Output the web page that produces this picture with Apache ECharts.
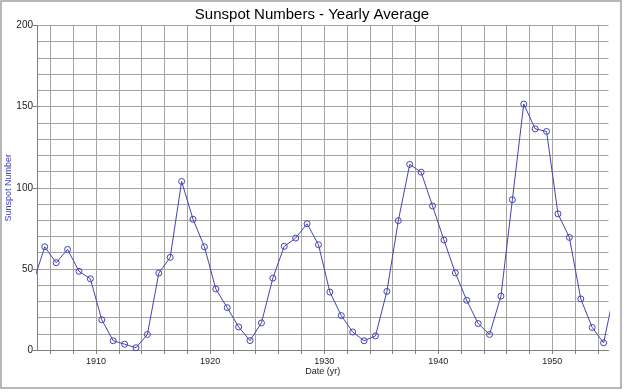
<!DOCTYPE html>
<html><head><meta charset="utf-8">
<script src="https://cdn.jsdelivr.net/npm/echarts@6/dist/echarts.min.js"></script>
<style>html,body{margin:0;padding:0;background:#fff}#c{width:624px;height:392px}</style>
</head><body><div id="c"></div>
<script>
// Yearly average sunspot numbers (plotted at mid-year)
const years = [1904,1905,1906,1907,1908,1909,1910,1911,1912,1913,1914,1915,1916,1917,1918,1919,1920,1921,1922,1923,1924,1925,1926,1927,1928,1929,1930,1931,1932,1933,1934,1935,1936,1937,1938,1939,1940,1941,1942,1943,1944,1945,1946,1947,1948,1949,1950,1951,1952,1953,1954,1955];
const sunspots = [42.0,63.6,53.8,62.0,48.5,43.9,18.6,5.7,3.6,1.4,9.6,47.4,57.1,103.9,80.6,63.6,37.6,26.1,14.2,5.8,16.7,44.3,63.9,69.0,77.8,64.9,35.7,21.2,11.1,5.7,8.7,36.1,79.7,114.4,109.6,88.8,67.8,47.5,30.6,16.3,9.6,33.2,92.6,151.6,136.3,134.7,83.9,69.4,31.5,13.9,4.4,38.0];
const xLabelValues = [1910,1920,1930,1940,1950];
const xTickValues = [1906,1908,1910,1912,1914,1916,1918,1920,1922,1924,1926,1928,1930,1932,1934,1936,1938,1940,1942,1944,1946,1948,1950,1952,1954];
const yLabels = [0,50,100,150,200];

const chart = echarts.init(document.getElementById('c'));
const font = 'Liberation Sans, Arial, sans-serif';
chart.setOption({
  animation:false,
  backgroundColor:'#fff',
  title:{text:'Sunspot Numbers - Yearly Average',left:'center',top:2,
    textStyle:{fontFamily:font,fontSize:15,fontWeight:'normal',color:'#000'}},
  grid:{left:37,right:15.5,top:25.5,bottom:42,containLabel:false,outerBoundsMode:'none'},
  graphic:[{type:'rect',shape:{x:1,y:1,width:620,height:387},style:{fill:'none',stroke:'#a0a0a0',lineWidth:1.5},silent:true}],
  xAxis:{type:'value',min:1904.82,max:1954.93,
    name:'Date (yr)',nameLocation:'middle',nameGap:17,nameMoveOverlap:false,
    nameTextStyle:{fontFamily:font,fontSize:9,color:'#222'},
    axisLine:{show:true,lineStyle:{color:'#808080',width:1}},
    axisTick:{show:true,length:4,customValues:xTickValues,lineStyle:{color:'#808080'}},
    axisLabel:{customValues:xLabelValues,margin:7,fontFamily:font,fontSize:9,color:'#222',
      formatter:v=>String(v)},
    splitLine:{show:true,lineStyle:{color:'#a4a4a4',width:1}},
    minorTick:{show:false},
    minorSplitLine:{show:false}
  },
  yAxis:{type:'value',min:0,max:200,interval:50,
    name:'Sunspot Number',nameLocation:'middle',nameGap:24,nameMoveOverlap:false,
    nameTextStyle:{fontFamily:font,fontSize:9,color:'#4040b0'},
    axisLine:{show:true,lineStyle:{color:'#808080',width:1}},
    axisTick:{show:true,length:4,lineStyle:{color:'#808080'}},
    axisLabel:{margin:4,fontFamily:font,fontSize:10,color:'#222',
      customValues:yLabels},
    splitLine:{show:true,lineStyle:{color:'#a4a4a4',width:1}},
    minorTick:{show:false,splitNumber:5},
    minorSplitLine:{show:true,lineStyle:{color:'#a4a4a4',width:1}}
  },
  series:[{type:'line',
    data:years.map((y,i)=>[y+0.5,sunspots[i]]),
    clip:true,z:3,
    symbol:'circle',symbolSize:6,
    lineStyle:{color:'#4444ae',width:1},
    itemStyle:{color:'rgba(255,255,255,0)',borderColor:'#4444ae',borderWidth:1}
  }]
});
</script></body></html>
